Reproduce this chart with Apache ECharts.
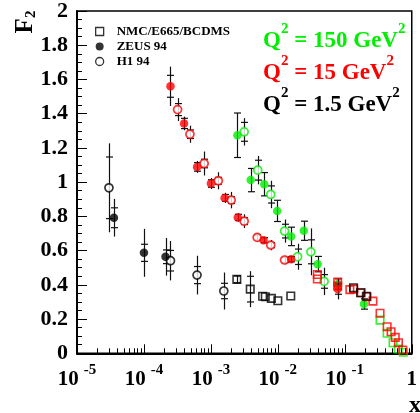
<!DOCTYPE html>
<html><head><meta charset="utf-8">
<script src="https://cdn.jsdelivr.net/npm/echarts@6/dist/echarts.min.js"></script>
<style>html,body{margin:0;padding:0;background:#fff;overflow:hidden}#c{width:420px;height:413px}</style>
</head><body><div id="c"></div>
<script>
// Each point: [x, F2, total error, statistical error]
// Q^2 = 1.5 GeV^2 (black)
const nmcQ1p5 = [[2.44e-3,0.432,0.02,0.02],[3.87e-3,0.375,0.105,0.075],[5.92e-3,0.333,0,0],[6.49e-3,0.330,0,0],[8.0e-3,0.321,0,0],[1.0e-2,0.307,0,0],[1.56e-2,0.335,0,0],[0.135,0.383,0,0],[0.172,0.354,0,0],[0.21,0.333,0,0]];
const zeusQ1p5 = [[3.56e-5,0.792,0.11,0.058],[1.0e-4,0.587,0.14,0.05],[2.1e-4,0.564,0.11,0.04]];
const h1Q1p5 = [[3.0e-5,0.967,0.26,0.18],[2.49e-4,0.541,0.115,0.06],[6.21e-4,0.457,0.113,0.05],[1.56e-3,0.364,0.108,0.045]];
// Q^2 = 15 GeV^2 (red)
const nmcQ15 = [[3.89e-2,0.460,0,0],[3.89e-2,0.434,0,0],[7.83e-2,0.416,0,0],[7.83e-2,0.393,0,0],[0.119,0.372,0,0],[0.136,0.375,0,0],[0.176,0.354,0,0],[0.215,0.330,0,0],[0.263,0.305,0,0],[0.336,0.234,0,0],[0.429,0.155,0,0],[0.491,0.126,0,0],[0.567,0.093,0,0],[0.633,0.062,0,0],[0.733,0.019,0,0]];
const zeusQ15 = [[2.49e-4,1.560,0.115,0.064],[3.97e-4,1.343,0.04,0.03],[6.21e-4,1.089,0.035,0.025],[1.0e-3,0.992,0.032,0.022],[1.6e-3,0.908,0.03,0.02],[2.52e-3,0.794,0.025,0.018],[6.12e-3,0.661,0.02,0.015],[1.58e-2,0.550,0.02,0.015],[7.83e-2,0.375,0.06,0.03]];
const h1Q15 = [[3.18e-4,1.424,0.067,0.035],[4.86e-4,1.280,0.05,0.025],[7.93e-4,1.109,0.07,0.025],[1.29e-3,1.008,0.05,0.02],[2.01e-3,0.895,0.048,0.02],[3.14e-3,0.772,0.04,0.02],[4.91e-3,0.677,0.025,0.015],[7.83e-3,0.632,0.03,0.015],[1.26e-2,0.545,0.025,0.015]];
// Q^2 = 150 GeV^2 (green)
const nmcQ150 = [[0.336,0.194,0,0],[0.429,0.117,0,0],[0.525,0.062,0,0],[0.627,0.025,0,0],[0.748,0.006,0,0]];
const zeusQ150 = [[2.49e-3,1.274,0.13,0.13],[3.93e-3,1.012,0.068,0.068],[6.26e-3,0.988,0.068,0.068],[9.77e-3,0.832,0.062,0.062],[1.58e-2,0.683,0.054,0.054],[2.44e-2,0.716,0.056,0.056],[3.93e-2,0.521,0.045,0.045],[7.83e-2,0.405,0.03,0.03],[0.193,0.288,0.03,0.03]];
const h1Q150 = [[3.14e-3,1.294,0.08,0.055],[5.01e-3,1.070,0.083,0.058],[7.83e-3,0.928,0.08,0.05],[1.26e-2,0.714,0.068,0.04],[1.97e-2,0.564,0.076,0.045],[3.11e-2,0.593,0.137,0.07],[4.91e-2,0.420,0.08,0.04]];

const xDecades = [1e-5,1e-4,1e-3,1e-2,1e-1,1];
const legendNames = ['NMC/E665/BCDMS','ZEUS 94','H1 94'];
const qLabels = ['150','15','1.5'];

const GREEN = '#00ee00', RED = '#ff0000', BLACK = '#000000';
const FONT = 'Liberation Serif';

// minor tick positions 2..9 within each decade (axis decoration)
const xMinorTicks = [];
for (let i = 0; i < xDecades.length - 1; i++) for (let m = 2; m <= 9; m++) xMinorTicks.push([m * xDecades[i], 0]);

function errRender(params, api) {
  const x = api.value(0), y = api.value(1), t = api.value(2), s = api.value(3);
  if (!t) return null;
  const a = api.coord([x, y + t]), b = api.coord([x, y - t]);
  const px = Math.round(a[0]) + 0.5;
  const st = {stroke:'#111', lineWidth:1.2};
  const kids = [{type:'line', shape:{x1:px, y1:a[1], x2:px, y2:b[1]}, style:st}];
  if (s) {
    const c = api.coord([x, y + s]), d = api.coord([x, y - s]);
    kids.push({type:'line', shape:{x1:px-3.5, y1:c[1], x2:px+3.5, y2:c[1]}, style:st});
    kids.push({type:'line', shape:{x1:px-3.5, y1:d[1], x2:px+3.5, y2:d[1]}, style:st});
  }
  return {type:'group', children:kids};
}

function groupSeries(data, kind, color, z) {
  const errS = {type:'custom', name:'err', data:data, renderItem:errRender, encode:{x:0, y:1}, z:z, silent:true};
  let sc;
  if (kind === 0) sc = {symbol:'rect', symbolSize:7.5, itemStyle:{color:'rgba(0,0,0,0)', borderColor:color, borderWidth:1.6}};
  else if (kind === 1) sc = {symbol:'circle', symbolSize:8.5, itemStyle:{color:color, borderWidth:0}};
  else sc = {symbol:'circle', symbolSize:8, itemStyle:{color:'#fff', borderColor:color, borderWidth:1.7}};
  return [errS, Object.assign({type:'scatter', name:legendNames[kind], data:data.map(p=>[p[0],p[1]]), z:z+1, silent:true}, sc)];
}

const series = [].concat(
  groupSeries(nmcQ150, 0, GREEN, 2), groupSeries(h1Q150, 2, GREEN, 2), groupSeries(zeusQ150, 1, GREEN, 2),
  groupSeries(nmcQ15, 0, RED, 4), groupSeries(h1Q15, 2, RED, 4), groupSeries(zeusQ15, 1, RED, 4),
  groupSeries(nmcQ1p5, 0, BLACK, 6), groupSeries(h1Q1p5, 2, BLACK, 6), groupSeries(zeusQ1p5, 1, BLACK, 6),
  [{type:'custom', name:'minor', data:xMinorTicks, encode:{x:0, y:1}, z:10, silent:true,
    renderItem:(p, api) => { const c = api.coord([api.value(0), 0]); const x = Math.round(c[0]) + 0.5;
      return {type:'line', shape:{x1:x, y1:c[1], x2:x, y2:c[1]-5}, style:{stroke:'#000', lineWidth:1}}; }}]
);

function qText(val) { return '{q|Q}{s|2}{q| = ' + val + ' GeV}{s|2}'; }
const qRich = {q:{fontFamily:FONT, fontWeight:'bold', fontSize:23, lineHeight:31, verticalAlign:'bottom'},
               s:{fontFamily:FONT, fontWeight:'bold', fontSize:15, lineHeight:15, verticalAlign:'top'}};

const chart = echarts.init(document.getElementById('c'), null, {renderer:'canvas'});
chart.setOption({
  animation:false,
  backgroundColor:'#fff',
  grid:{left:77, top:10.7, width:345, height:342.6, show:true, borderColor:'#000', borderWidth:1.5, backgroundColor:'transparent'},
  xAxis:{type:'log', logBase:10, min:xDecades[0], max:xDecades[xDecades.length-1], splitNumber:5,
    axisLine:{show:true, lineStyle:{color:'#000', width:2}},
    axisTick:{show:true, inside:true, length:9, lineStyle:{color:'#000', width:1}},
    splitLine:{show:false},
    axisLabel:{margin:9, color:'#000',
      formatter:v => { const e = Math.round(Math.log10(v)); return e === 0 ? '{b|1}' : '{b|10}{s|' + e + '}'; },
      rich:{b:{fontFamily:FONT, fontWeight:'bold', fontSize:21, lineHeight:28, verticalAlign:'bottom', color:'#000'},
            s:{fontFamily:FONT, fontWeight:'bold', fontSize:15, lineHeight:15, verticalAlign:'top', padding:[0,0,0,5], color:'#000'}}}},
  yAxis:{type:'value', min:0, max:2, interval:0.2,
    axisLine:{show:true, lineStyle:{color:'#000', width:2}},
    axisTick:{show:true, inside:true, length:10, lineStyle:{color:'#000', width:1}},
    minorTick:{show:true, splitNumber:4, length:5, lineStyle:{color:'#000', width:1}},
    splitLine:{show:false},
    axisLabel:{margin:9, color:'#000', fontFamily:FONT, fontWeight:'bold', fontSize:22}},
  legend:{left:90, top:20, orient:'vertical', itemWidth:8, itemHeight:8, itemGap:2, selectedMode:false,
    textStyle:{fontFamily:FONT, fontWeight:'bold', fontSize:13, color:'#000', padding:[0,0,0,8]},
    data:[{name:legendNames[0], icon:'rect', itemStyle:{color:'#fff', borderColor:'#000', borderWidth:1.3}},
          {name:legendNames[1], icon:'circle', itemStyle:{color:'#000', borderWidth:0}},
          {name:legendNames[2], icon:'circle', itemStyle:{color:'#fff', borderColor:'#000', borderWidth:1.3}}]},
  graphic:[
    {type:'text', x:263, y:22, z:20, style:{text:qText(qLabels[0]), rich:qRich, fill:GREEN}},
    {type:'text', x:263, y:54, z:20, style:{text:qText(qLabels[1]), rich:qRich, fill:RED}},
    {type:'text', x:263, y:86, z:20, style:{text:qText(qLabels[2]), rich:qRich, fill:BLACK}},
    {type:'text', x:26, y:22, rotation:Math.PI/2, z:20,
      style:{text:'{f|F}{s|2}', align:'center', verticalAlign:'middle', fill:'#000',
        rich:{f:{fontFamily:FONT, fontWeight:'bold', fontSize:25, lineHeight:25, verticalAlign:'top'},
              s:{fontFamily:FONT, fontWeight:'bold', fontSize:15, lineHeight:15, verticalAlign:'bottom'}}}},
    {type:'text', x:409, y:394, z:20, style:{text:'x', fill:'#000', fontFamily:FONT, fontWeight:'bold', fontSize:24}}
  ],
  series:series
});
</script></body></html>
